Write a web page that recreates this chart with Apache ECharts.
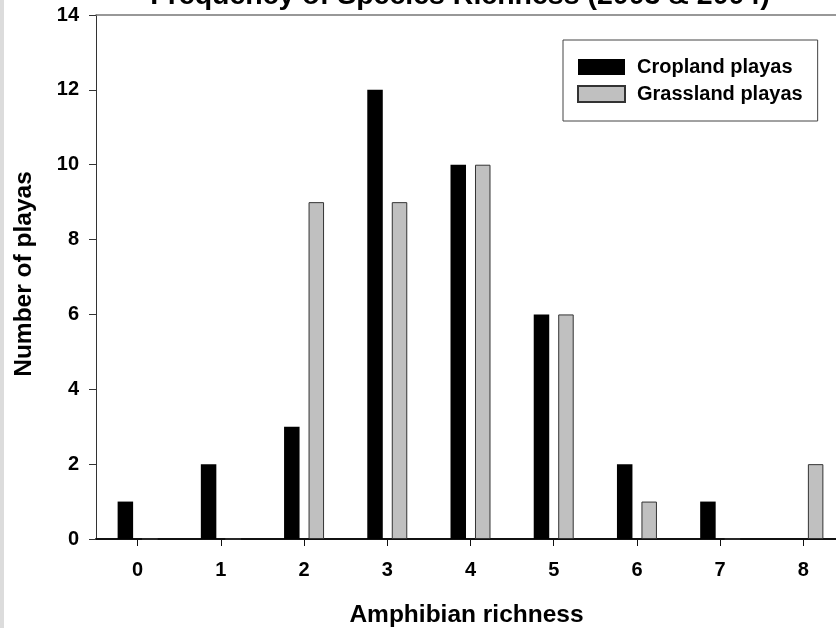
<!DOCTYPE html>
<html>
<head>
<meta charset="utf-8">
<script src="https://cdn.jsdelivr.net/npm/echarts@6/dist/echarts.min.js"></script>
<style>
html,body{margin:0;padding:0;background:#fff;}
#chart{width:836px;height:628px;}
</style>
</head>
<body>
<div id="chart"></div>
<script>
const categories = ['0','1','2','3','4','5','6','7','8'];
const croplandValues = [1, 2, 3, 12, 10, 6, 2, 1, 0];
const grasslandValues = [0, 0, 9, 9, 10, 6, 1, 0, 2];
const yTicks = { min: 0, max: 14, interval: 2 };
const titleText = 'Frequency of Species Richness (2003 & 2004)';
const xName = 'Amphibian richness';
const yName = 'Number of playas';
const seriesNames = ['Cropland playas', 'Grassland playas'];

const FONT = '"Liberation Sans", Arial, sans-serif';
const chart = echarts.init(document.getElementById('chart'), null, {renderer: 'canvas'});
chart.setOption({
  animation: false,
  backgroundColor: '#fff',
  title: {
    text: titleText,
    left: 455,
    top: -23,
    textAlign: 'center',
    textStyle: {fontFamily: FONT, fontWeight: 'bold', fontSize: 28.5, color: '#000'}
  },
  graphic: [
    {type: 'rect', left: 0, top: 0, shape: {x: 0, y: 0, width: 4, height: 628}, style: {fill: '#dcdcdc'}, silent: true}
  ],
  legend: {
    orient: 'vertical',
    left: 563,
    top: 40,
    itemWidth: 47,
    itemHeight: 16,
    itemGap: 7,
    padding: [17, 15, 17, 14],
    borderColor: '#444',
    borderWidth: 1,
    backgroundColor: '#fff',
    icon: 'rect',
    textStyle: {fontFamily: FONT, fontWeight: 'bold', fontSize: 20, color: '#000', padding: [0, 0, 0, 7]},
    data: seriesNames
  },
  grid: {left: 96, top: 15, right: -9, bottom: 89, containLabel: false, outerBoundsMode: 'none'},
  xAxis: [
    {
      type: 'category',
      data: categories,
      boundaryGap: true,
      position: 'bottom',
      axisLine: {show: true, lineStyle: {color: '#111', width: 2}},
      axisTick: {show: true, alignWithLabel: true, length: 7, lineStyle: {color: '#111', width: 1}},
      axisLabel: {fontFamily: FONT, fontWeight: 'bold', fontSize: 20, color: '#000', margin: 21},
      splitLine: {show: false},
      name: xName,
      nameLocation: 'middle',
      nameGap: 64,
      nameTextStyle: {fontFamily: FONT, fontWeight: 'bold', fontSize: 24.5, color: '#000', padding: [0, 8, 0, 0]}
    },
    {
      type: 'value',
      position: 'top',
      min: 0, max: 1,
      axisLine: {show: true, lineStyle: {color: '#777', width: 1.5}},
      axisTick: {show: false},
      axisLabel: {show: false},
      splitLine: {show: false}
    }
  ],
  yAxis: {
    type: 'value',
    min: yTicks.min,
    max: yTicks.max,
    interval: yTicks.interval,
    axisLine: {show: true, lineStyle: {color: '#333', width: 1}},
    axisTick: {show: true, length: 7, inside: false, lineStyle: {color: '#333', width: 1}},
    axisLabel: {fontFamily: FONT, fontWeight: 'bold', fontSize: 20, color: '#000', margin: 17},
    splitLine: {show: false},
    name: yName,
    nameLocation: 'middle',
    nameGap: 59,
    nameTextStyle: {fontFamily: FONT, fontWeight: 'bold', fontSize: 24.5, color: '#000', padding: [0, 0, 0, 6]}
  },
  series: [
    {
      name: seriesNames[0],
      type: 'bar',
      data: croplandValues,
      barWidth: 15.5,
      barGap: '58%',
      itemStyle: {color: '#000', borderColor: '#000', borderWidth: 0}
    },
    {
      name: seriesNames[1],
      type: 'bar',
      data: grasslandValues,
      barWidth: 15.5,
      barGap: '58%',
      itemStyle: {color: '#c0c0c0', borderColor: '#333', borderWidth: 1}
    }
  ]
});
</script>
</body>
</html>
